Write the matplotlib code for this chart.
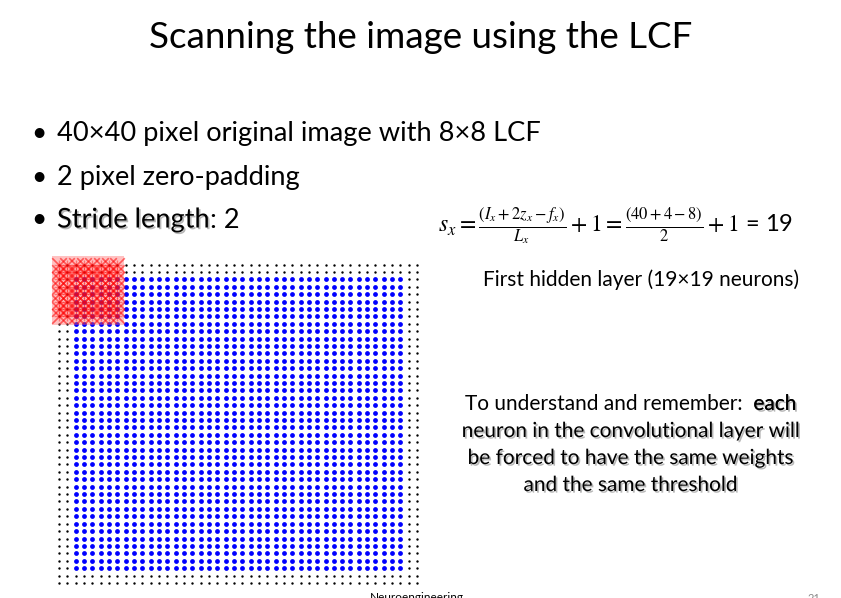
import matplotlib.pyplot as plt
import matplotlib.patheffects as pe
from matplotlib.patches import Rectangle
import numpy as np

# Параметры сетки
image_size = 40        # исходное изображение 40x40
padding = 2            # нулевое дополнение
lcf_size = 8           # размер LCF 8x8
lcf_origin = (0, 0)    # положение окна (столбец, строка)

title = "Scanning the image using the LCF"
bullets = ["40\u00d740 pixel original image with 8\u00d78 LCF",
           "2 pixel zero-padding"]
stride_label = "Stride length"
stride_value = ": 2"
formula = r"$s_x = \frac{(I_x+2z_x-f_x)}{L_x} + 1 = \frac{(40+4-8)}{2} + 1$ = 19"
hidden_text = "First hidden layer (19\u00d719 neurons)"
note_first = "To understand and remember:  each"
note_first_shadow = "each"
note_lines = ["neuron in the convolutional layer will",
              "be forced to have the same weights",
              "and the same threshold"]
footer = "Neuroengineering"
page_no = "21"

plt.rcParams['font.family'] = ['Lato', 'DejaVu Sans']
plt.rcParams['mathtext.fontset'] = 'stix'

W, H = 841, 598
fig = plt.figure(figsize=(W / 100, H / 100), dpi=100)
fig.patch.set_facecolor('white')

def fx(px):
    return px / W

def fy(py):
    return 1 - py / H

shadow = [pe.SimplePatchShadow(offset=(1.2, -1.2), shadow_rgbFace='#888888', alpha=0.6), pe.Normal()]

# Заголовок и пункты
fig.text(fx(421), fy(37), title, ha='center', va='center', fontsize=26.5)
bullet_y = [133, 177, 220]
for y, txt in zip(bullet_y[:2], bullets):
    fig.text(fx(31), fy(y), "\u2022", ha='left', va='center', fontsize=19)
    fig.text(fx(57), fy(y), txt, ha='left', va='center', fontsize=19.6)
fig.text(fx(31), fy(bullet_y[2]), "\u2022", ha='left', va='center', fontsize=19)
t_stride = fig.text(fx(57), fy(bullet_y[2]), stride_label, ha='left', va='center',
                    fontsize=19.6, path_effects=shadow)
fig.canvas.draw()
bb = t_stride.get_window_extent()
fig.text(bb.x1 / W, fy(bullet_y[2]), stride_value, ha='left', va='center', fontsize=19.6)

# Формула и подписи справа
fig.text(fx(438), fy(226), formula, ha='left', va='center', fontsize=17)
fig.text(fx(483), fy(280), hidden_text, ha='left', va='center', fontsize=15)

note_x = 631
note_y = [404, 431, 458, 485]
t1 = fig.text(fx(note_x), fy(note_y[0]), note_first, ha='center', va='center', fontsize=15)
fig.canvas.draw()
bb1 = t1.get_window_extent()
fig.text(bb1.x1 / W, fy(note_y[0]), note_first_shadow, ha='right', va='center',
         fontsize=15, path_effects=shadow)
for y, txt in zip(note_y[1:], note_lines):
    fig.text(fx(note_x), fy(y), txt, ha='center', va='center', fontsize=15,
             path_effects=shadow)

fig.text(fx(370), fy(603), footer, ha='left', va='bottom', fontsize=8.5)
fig.text(fx(808), fy(604), page_no, ha='left', va='bottom', fontsize=8, color='#888888')

# Сетка пикселей
n = image_size + 2 * padding
ax = fig.add_axes([fx(54.8), fy(586.6), 366.5 / W, 325.6 / H])
ax.set_xlim(-0.5, n - 0.5)
ax.set_ylim(n - 0.5, -0.5)
ax.axis('off')

cols, rows = np.meshgrid(np.arange(n), np.arange(n))
inner = ((cols >= padding) & (cols < padding + image_size) &
         (rows >= padding) & (rows < padding + image_size))
ax.scatter(cols[~inner], rows[~inner], s=3, c='black', linewidths=0)
ax.scatter(cols[inner], rows[inner], s=12, c='#0000ff', linewidths=0)

# Окно LCF
c0, r0 = lcf_origin
ax.add_patch(Rectangle((c0 - 0.85, r0 - 1.2), lcf_size + 0.7, lcf_size + 1.4,
                       facecolor='#ff6666', alpha=0.4, edgecolor='none',
                       clip_on=False, zorder=3))
lc, lr = np.meshgrid(np.arange(c0, c0 + lcf_size), np.arange(r0, r0 + lcf_size))
ax.scatter(lc, lr, s=110, marker='x', c='red', alpha=0.55, linewidths=1.2,
           clip_on=False, zorder=4)
ax.scatter(lc, lr, s=60, marker='+', c='red', alpha=0.4, linewidths=1.0,
           clip_on=False, zorder=4)

fig.savefig('out.png', dpi=100)
